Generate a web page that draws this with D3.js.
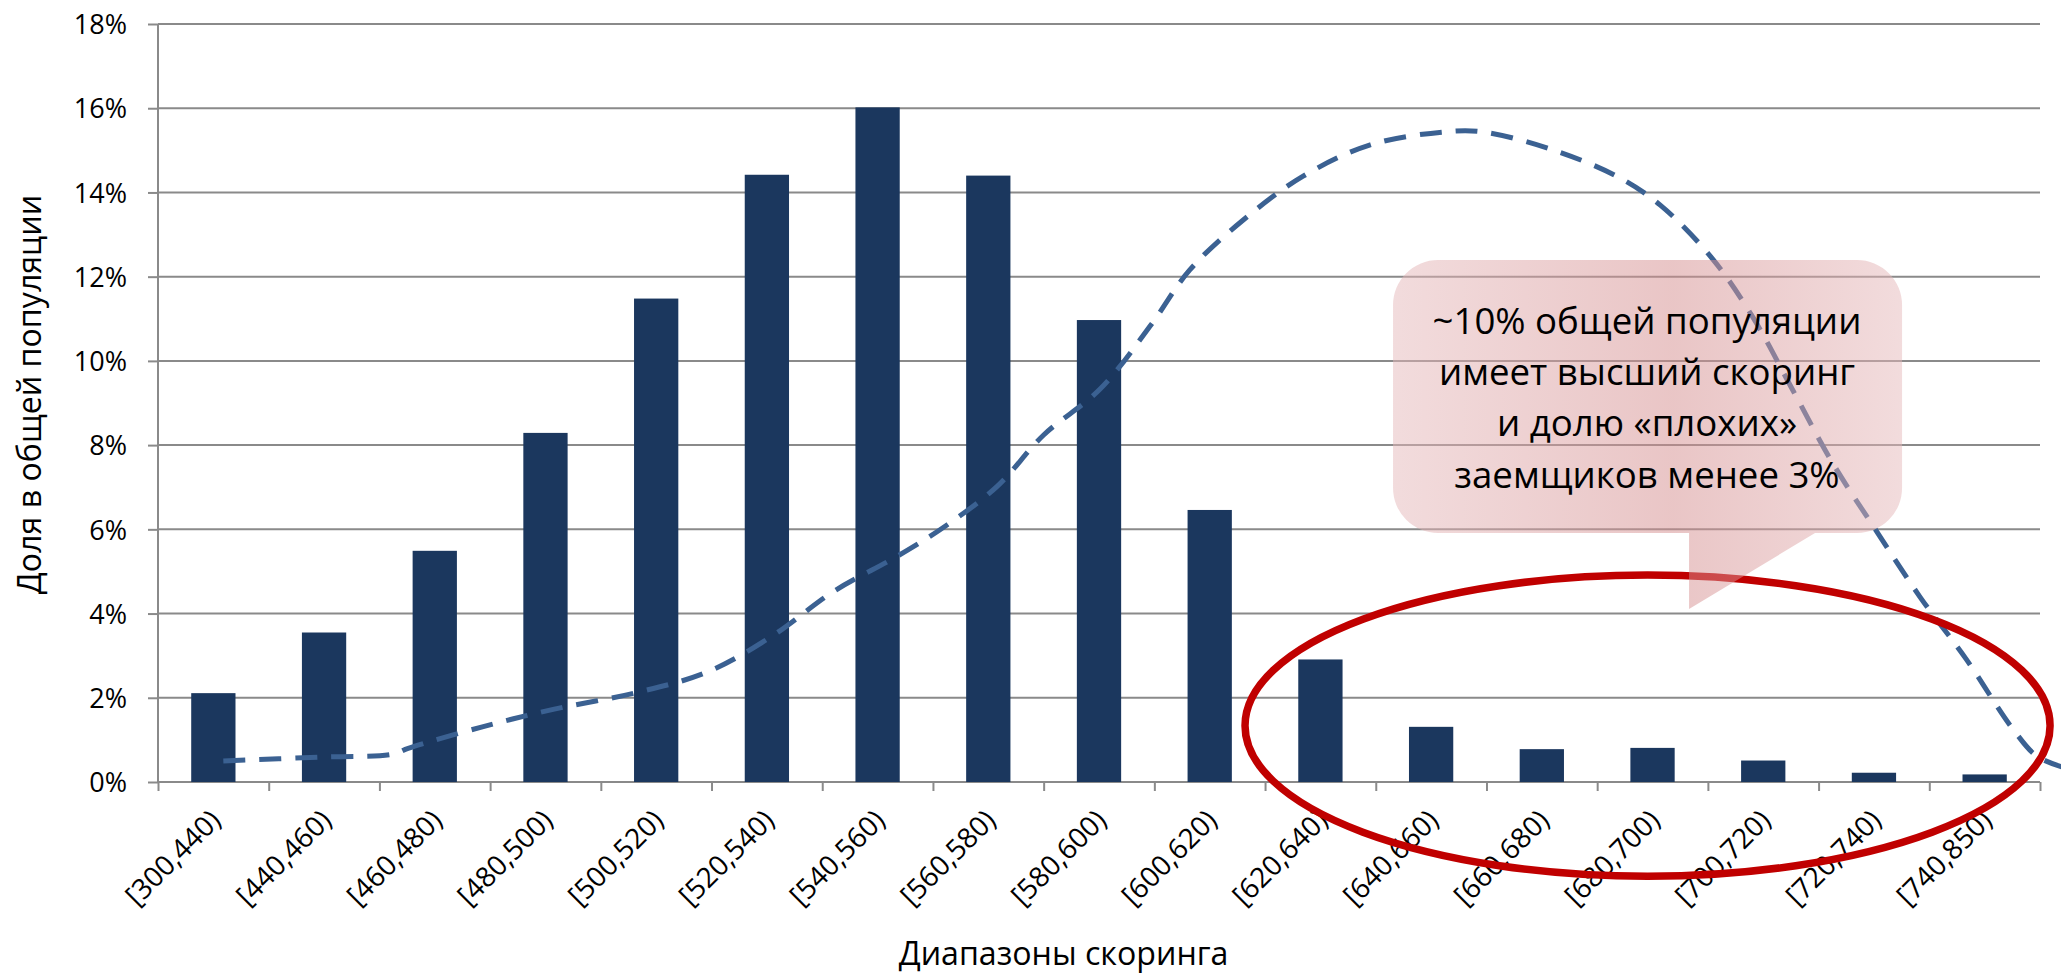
<!DOCTYPE html>
<html>
<head>
<meta charset="utf-8">
<script src="https://cdn.jsdelivr.net/npm/d3@7"></script>
<style>
  html, body { margin: 0; padding: 0; background: #fff; overflow: hidden; }
  svg { display: block; }
  text { font-family: "Open Sans", "Noto Sans", sans-serif; fill: #000; }
</style>
</head>
<body>
<svg id="chart" width="2061" height="973"></svg>
<script>
// Score bands on the x axis
const categories = ["[300,440)", "[440,460)", "[460,480)", "[480,500)", "[500,520)",
  "[520,540)", "[540,560)", "[560,580)", "[580,600)", "[600,620)", "[620,640)",
  "[640,660)", "[660,680)", "[680,700)", "[700,720)", "[720,740)", "[740,850)"];

// Share of the total population per band, %
const shares = [2.11, 3.55, 5.49, 8.29, 11.48, 14.42, 16.02, 14.40, 10.97, 6.46,
  2.91, 1.31, 0.78, 0.81, 0.51, 0.22, 0.18];

// Dashed trend curve: position along the band axis (0 = left edge, 17 = right edge) and level, %
const curvePos = [0.59, 1.46, 2.12, 2.26, 2.93, 3.58, 4.30, 4.96, 5.55, 6.10, 6.69, 7.13,
  7.58, 8.00, 8.51, 8.96, 9.32, 9.80, 10.34, 10.95, 11.63, 11.96, 12.60, 13.18, 13.57,
  14.04, 14.41, 14.77, 15.13, 15.53, 15.92, 16.33, 16.76, 16.98, 17.30];
const curveLevel = [0.50, 0.59, 0.66, 0.80, 1.31, 1.73, 2.11, 2.61, 3.47, 4.52, 5.38, 6.11,
  7.02, 8.24, 9.33, 10.82, 12.16, 13.34, 14.38, 15.13, 15.44, 15.44, 15.01, 14.38, 13.70,
  12.43, 11.02, 9.29, 7.56, 5.93, 4.38, 2.93, 1.24, 0.60, 0.28];

// Y axis tick values, %
const yTicks = [0, 2, 4, 6, 8, 10, 12, 14, 16, 18];

const yTitle = "Доля в общей популяции";
const xTitle = "Диапазоны скоринга";
const calloutLines = ["~10% общей популяции", "имеет высший скоринг",
  "и долю «плохих»", "заемщиков менее 3%"];

// ---- layout ----
const W = 2061, H = 973;
const plot = { left: 158, right: 2040, top: 24, bottom: 782 };
const gridColor = "#8a8a8a";
const barColor = "#1b375e";
const lineColor = "#3b6192";
const ringColor = "#c00000";

const svg = d3.select("#chart");
svg.append("rect").attr("width", W).attr("height", H).attr("fill", "#fff");

const x = d3.scaleBand().domain(categories).range([plot.left, plot.right])
  .paddingInner(0.6).paddingOuter(0.3);
const xu = d3.scaleLinear().domain([0, categories.length]).range([plot.left, plot.right]);
const y = d3.scaleLinear().domain([0, 18]).range([plot.bottom, plot.top]);

// horizontal gridlines
svg.append("g").selectAll("line").data(yTicks).join("line")
  .attr("x1", plot.left).attr("x2", plot.right)
  .attr("y1", d => y(d)).attr("y2", d => y(d))
  .attr("stroke", gridColor).attr("stroke-width", 2);

// y axis with tick labels
const yAxis = svg.append("g").attr("transform", `translate(${plot.left},0)`)
  .call(d3.axisLeft(y).tickValues(yTicks).tickSize(10).tickPadding(21)
    .tickFormat(d => d + "%"));
yAxis.select(".domain").remove();
yAxis.selectAll(".tick line").attr("stroke", gridColor).attr("stroke-width", 2);
yAxis.selectAll(".tick text").attr("font-size", 27).attr("font-family", null)
  .attr("fill", "#000").attr("dy", "0.36em");
svg.append("line").attr("x1", plot.left).attr("x2", plot.left)
  .attr("y1", plot.top).attr("y2", plot.bottom)
  .attr("stroke", gridColor).attr("stroke-width", 2);

// x axis: tick marks on band boundaries
const xAxis = svg.append("g").attr("transform", `translate(0,${plot.bottom})`)
  .call(d3.axisBottom(xu).tickValues(d3.range(categories.length + 1)).tickSize(9)
    .tickFormat(""));
xAxis.select(".domain").attr("stroke", gridColor).attr("stroke-width", 2)
  .attr("d", `M${plot.left},0H${plot.right}`);
xAxis.selectAll(".tick line").attr("stroke", gridColor).attr("stroke-width", 2);

// rotated category labels
svg.append("g").selectAll("text").data(categories).join("text")
  .attr("text-anchor", "end").attr("font-size", 28)
  .attr("transform", d => `translate(${x(d) + x.bandwidth() / 2 + 9},${plot.bottom + 40}) rotate(-45)`)
  .text(d => d);

// bars
svg.append("g").selectAll("rect").data(categories).join("rect")
  .attr("x", d => x(d)).attr("width", x.bandwidth())
  .attr("y", (d, i) => y(shares[i]))
  .attr("height", (d, i) => plot.bottom - y(shares[i]))
  .attr("fill", barColor);

// dashed curve
const curvePts = curvePos.map((p, i) => [xu(p), y(curveLevel[i])]);
svg.append("path").attr("d", d3.line().curve(d3.curveCatmullRom.alpha(0.5))(curvePts))
  .attr("fill", "none").attr("stroke", lineColor).attr("stroke-width", 5)
  .attr("stroke-dasharray", "22,14");

// axis titles (same size, fitted to the x title width)
const xt = svg.append("text").attr("font-size", 30).attr("text-anchor", "middle")
  .attr("x", xu(8.18)).attr("y", 965).text(xTitle);
const titleSize = 30 * 330 / xt.node().getComputedTextLength();
xt.attr("font-size", titleSize);
svg.append("text").attr("font-size", titleSize).attr("text-anchor", "middle")
  .attr("transform", `translate(41,${y(9.2)}) rotate(-90)`).text(yTitle);

// red ring around the top score bands (band units / % units)
const ring = { cu: 13.455, cv: 1.337, ru: 3.636, rv: 3.576 };
svg.append("ellipse")
  .attr("cx", xu(ring.cu)).attr("cy", y(ring.cv))
  .attr("rx", xu(ring.cu + ring.ru) - xu(ring.cu))
  .attr("ry", y(ring.cv - ring.rv) - y(ring.cv))
  .attr("fill", "none").attr("stroke", ringColor).attr("stroke-width", 7.5);

// callout bubble
const box = { u0: 11.156, u1: 15.754, v0: 12.396, v1: 5.913, pu: 13.83, pr: 14.968, tip: 4.108 };
const grad = svg.append("defs").append("linearGradient").attr("id", "bubbleFill")
  .attr("x1", "0%").attr("x2", "100%").attr("y1", "0%").attr("y2", "0%");
grad.append("stop").attr("offset", "0%").attr("stop-color", "rgb(229,184,186)").attr("stop-opacity", 0.5);
grad.append("stop").attr("offset", "55%").attr("stop-color", "rgb(212,140,141)").attr("stop-opacity", 0.5);
grad.append("stop").attr("offset", "100%").attr("stop-color", "rgb(229,184,186)").attr("stop-opacity", 0.5);

const bx0 = xu(box.u0), bx1 = xu(box.u1), by0 = y(box.v0), by1 = y(box.v1);
const r = 45;
const p = d3.path();
p.moveTo(bx0 + r, by0);
p.lineTo(bx1 - r, by0);
p.arcTo(bx1, by0, bx1, by0 + r, r);
p.lineTo(bx1, by1 - r);
p.arcTo(bx1, by1, bx1 - r, by1, r);
p.lineTo(xu(box.pr), by1);
p.lineTo(xu(box.pu), y(box.tip));
p.lineTo(xu(box.pu), by1);
p.lineTo(bx0 + r, by1);
p.arcTo(bx0, by1, bx0, by1 - r, r);
p.lineTo(bx0, by0 + r);
p.arcTo(bx0, by0, bx0 + r, by0, r);
p.closePath();
svg.append("path").attr("d", p.toString()).attr("fill", "url(#bubbleFill)");

const lineBase = [10.65, 9.43, 8.205, 6.99];
const ct = svg.append("g").selectAll("text").data(calloutLines).join("text")
  .attr("text-anchor", "middle").attr("font-size", 34)
  .attr("x", xu(13.45)).attr("y", (d, i) => y(lineBase[i])).text(d => d);
const calloutSize = 34 * 429 / ct.nodes()[0].getComputedTextLength();
ct.attr("font-size", calloutSize);
</script>
</body>
</html>
